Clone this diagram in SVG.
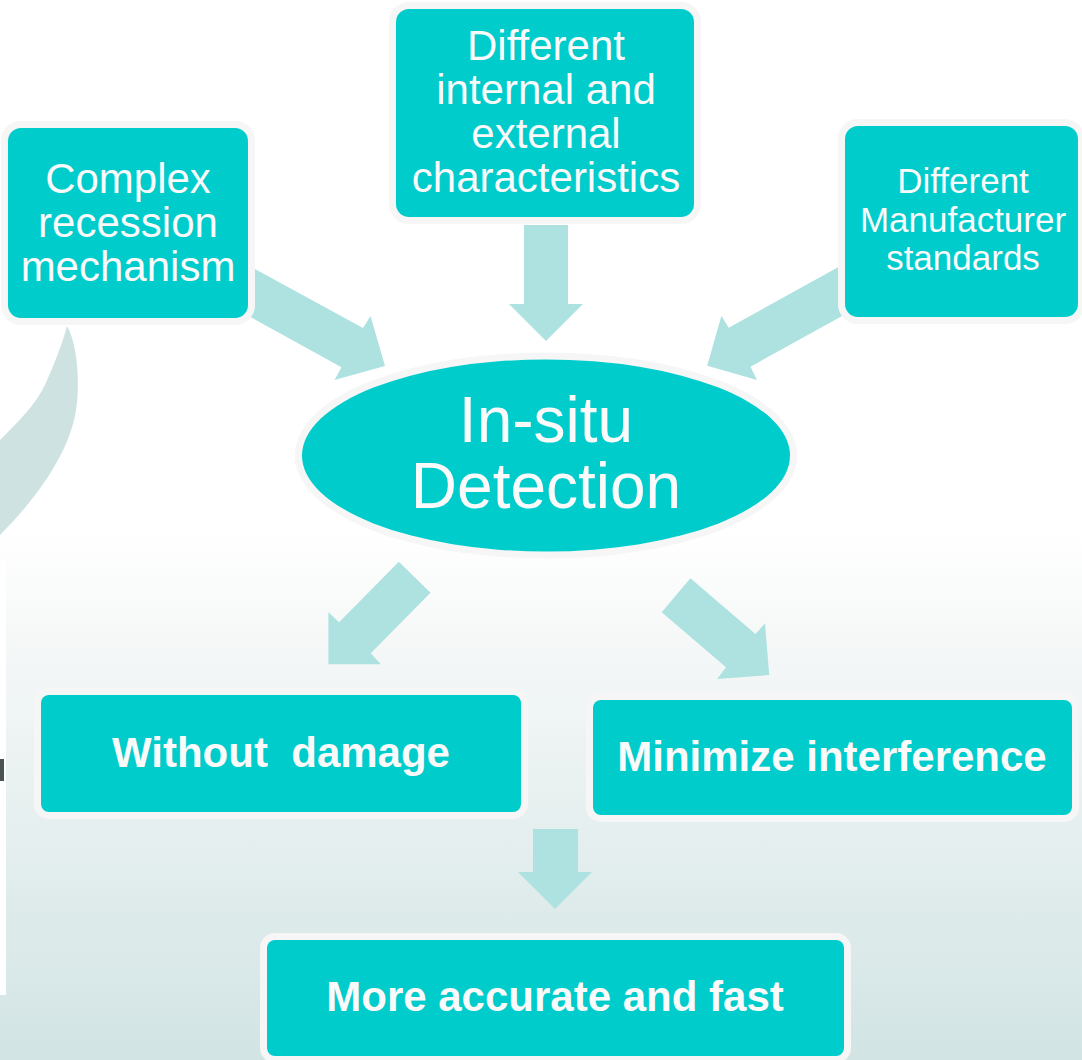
<svg xmlns="http://www.w3.org/2000/svg" width="1082" height="1060" viewBox="0 0 1082 1060">
<defs>
<linearGradient id="bg" x1="0" y1="0" x2="0" y2="1">
<stop offset="0" stop-color="#ffffff"/>
<stop offset="0.5" stop-color="#ffffff"/>
<stop offset="0.6" stop-color="#f6f8f8"/>
<stop offset="1" stop-color="#d2e4e4"/>
</linearGradient>
</defs>
<style>
.box{fill:#00cccc;stroke:#f6f6f6;stroke-width:14;paint-order:stroke}
.arr{fill:#ade2e0}
.t{fill:#fafafa;font-family:"Liberation Sans",Arial,sans-serif;text-anchor:middle}
.n{font-size:42px}
.s{font-size:35px}
.b{font-size:42px;font-weight:bold}
.e{font-size:64px}
</style>
<rect x="0" y="0" width="1082" height="1060" fill="url(#bg)"/>
<path d="M67 326 C78 345 80 385 76 410 C70 450 40 495 0 535 L0 440 C20 420 35 405 45 385 C55 362 62 345 67 326 Z" fill="#cfe2e2"/>
<rect x="0" y="560" width="6" height="435" fill="#ffffff"/>
<rect x="0" y="759" width="4" height="22" fill="#4a5252"/>

<g id="connectors">
<polygon class="arr" points="524,225 568,225 568,304 583,304 546,341 509,304 524,304"/>
<polygon class="arr" points="200,239 363,328 370.5,316 385,366 334.5,380 341.4,367.3 200,289"/>
<polygon class="arr" points="900,233 728.7,327.7 721.4,315.7 707.2,365.7 757,380 750.5,366.7 900,284"/>
<polygon class="arr" points="398.8,561.7 430.5,592.7 370.8,653.3 380.8,664.3 328.4,664.3 328.4,612.3 339.1,622.3"/>
<polygon class="arr" points="690.4,578.3 755.4,634 765,623.3 769.2,675 717.2,679 726,667.3 661.7,612.3"/>
<polygon class="arr" points="533,829 578,829 578,872 592,872 555,909 518,872 533,872"/>
</g>

<g id="node-complex">
<rect class="box" x="8" y="128" width="240" height="190" rx="13"/>
<text class="t n" x="128" y="193">Complex</text>
<text class="t n" x="128" y="237">recession</text>
<text class="t n" x="128" y="281">mechanism</text>
</g>
<g id="node-different-chars">
<rect class="box" x="396" y="9" width="298" height="208" rx="13"/>
<text class="t n" x="546" y="60">Different</text>
<text class="t n" x="546" y="104">internal and</text>
<text class="t n" x="546" y="148">external</text>
<text class="t n" x="546" y="192">characteristics</text>
</g>
<g id="node-manufacturer">
<rect class="box" x="845" y="126" width="233" height="191" rx="13"/>
<text class="t s" x="963" y="193">Different</text>
<text class="t s" x="963" y="232">Manufacturer</text>
<text class="t s" x="963" y="270">standards</text>
</g>
<g id="node-insitu">
<ellipse class="box" cx="546" cy="455.5" rx="244" ry="96"/>
<text class="t e" x="546" y="442">In-situ</text>
<text class="t e" x="546" y="508">Detection</text>
</g>
<g id="node-without-damage">
<rect class="box" x="41" y="695" width="480" height="117" rx="8"/>
<text class="t b" x="281" y="767" xml:space="preserve">Without  damage</text>
</g>
<g id="node-minimize">
<rect class="box" x="593" y="700" width="479" height="115" rx="8"/>
<text class="t b" x="832" y="771">Minimize interference</text>
</g>
<g id="node-accurate">
<rect class="box" x="267" y="940" width="577" height="116" rx="8"/>
<text class="t b" x="555" y="1011">More accurate and fast</text>
</g>
</svg>
